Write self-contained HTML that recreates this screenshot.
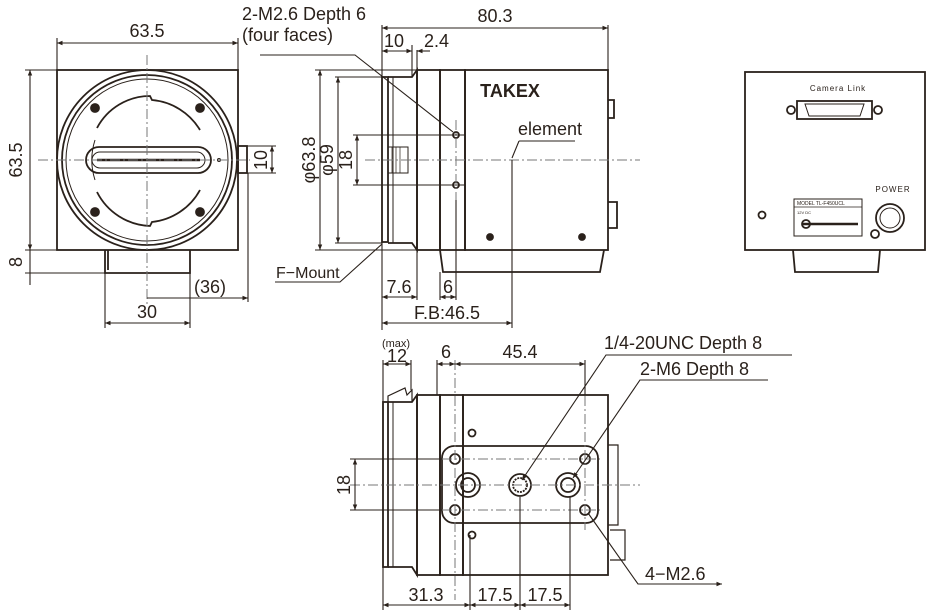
<!DOCTYPE html>
<html><head><meta charset="utf-8"><style>
html,body{margin:0;padding:0;background:#fff;width:939px;height:613px;overflow:hidden}
svg{display:block}
text{font-family:"Liberation Sans",sans-serif;fill:#2a211b}
</style></head><body>
<svg width="939" height="613" viewBox="0 0 939 613" xmlns="http://www.w3.org/2000/svg">
<defs>
<marker id="a" viewBox="0 0 10 10" refX="10" refY="5" markerWidth="7" markerHeight="5" orient="auto-start-reverse"><path d="M0,1 L10,5 L0,9z" fill="#2a211b"/></marker>
</defs>
<g stroke="#2a211b" fill="none" stroke-width="1.8">
<!-- FRONT VIEW -->
<rect x="57" y="70" width="181" height="180"/>
<circle cx="147" cy="160" r="90"/>
<circle cx="147" cy="160" r="85"/>
<circle cx="147" cy="160" r="81" stroke-width="1"/>
<path d="M97,128 A60,60 0 0 1 150,96 L152,100 A62,62 0 0 1 200,130 M200,190 A62,62 0 0 1 152,222 L150,226 A62,62 0 0 1 97,192"/>
<path d="M95,140 A65,65 0 0 0 95,180" stroke-width="1"/>
<rect x="86" y="147" width="125" height="26" rx="13"/>
<rect x="92" y="152" width="113" height="16" rx="8" stroke-width="1"/>
<line x1="97" y1="160" x2="200" y2="160" stroke-width="2.5"/>
<g fill="#2a211b"><circle cx="95" cy="108" r="4"/><circle cx="200" cy="108" r="4"/><circle cx="95" cy="212" r="4"/><circle cx="200" cy="212" r="4"/></g>
<circle cx="219" cy="160" r="1.5" stroke-width="1"/>
<rect x="238" y="146" width="9" height="27"/>
<path d="M105,250 L105,273 L190,273 L190,250 M108,250 L108,270" />
<!-- SIDE VIEW -->
<rect x="382" y="77" width="6" height="165"/>
<path d="M388,77 L412,77 L417,70 L417,250 L412,243 L388,243"/>
<line x1="393" y1="77" x2="393" y2="243" stroke-width="1"/>
<rect x="417" y="70" width="23" height="180"/>
<rect x="440" y="70" width="25" height="180"/>
<rect x="465" y="70" width="143" height="180"/>
<rect x="388" y="147" width="20" height="26" stroke-width="1"/>
<path d="M392,147 V173 M396,147 V173 M400,147 V173" stroke-width="0.7"/>
<circle cx="456" cy="135" r="3"/><circle cx="456" cy="185" r="3"/>
<g fill="#2a211b"><circle cx="490" cy="237" r="3"/><circle cx="582" cy="237" r="3"/></g>
<path d="M440,250 L443,272 L600,272 L604,250"/>
<path d="M608,100 H614 V118 H608 M608,202 H617 V228 H608"/>
<!-- BACK VIEW -->
<rect x="745" y="72" width="180" height="178"/>
<path d="M793,250 L795,272 L878,272 L880,250"/>
<rect x="797" y="101" width="75" height="18"/>
<path d="M805,104 H864 L860,116 H809z" stroke-width="1"/>
<circle cx="791" cy="110" r="4"/><circle cx="878" cy="110" r="4"/>
<rect x="794" y="199" width="68" height="37" stroke-width="1"/>
<line x1="794" y1="207" x2="862" y2="207" stroke-width="0.8"/>
<line x1="802" y1="224" x2="858" y2="224" stroke-width="2.5"/>
<circle cx="806" cy="224" r="4"/>
<circle cx="890" cy="218" r="14"/><circle cx="890" cy="218" r="10" stroke-width="1"/>
<circle cx="875" cy="234" r="4"/>
<circle cx="762" cy="215" r="3.5"/>
<!-- BOTTOM VIEW -->
<rect x="383" y="402" width="5" height="165"/>
<path d="M388,402 L412,402 L417,395 L417,575 L412,567 L388,567"/>
<line x1="393" y1="402" x2="393" y2="567" stroke-width="1"/>
<path d="M388,402 L388,396 L405,388 L407,395 L412,390 L412,402" stroke-width="1.2"/>
<rect x="417" y="395" width="23" height="180"/>
<rect x="440" y="395" width="23" height="180"/>
<rect x="463" y="395" width="145" height="180"/>
<rect x="442" y="446" width="156" height="77" rx="12"/>
<circle cx="468" cy="485" r="12"/><circle cx="468" cy="485" r="7"/>
<circle cx="520" cy="485" r="11"/><circle cx="520" cy="485" r="7" stroke-dasharray="2 1"/>
<circle cx="568" cy="485" r="12"/><circle cx="568" cy="485" r="7"/>
<circle cx="455" cy="459" r="5"/><circle cx="455" cy="510" r="5"/><circle cx="585" cy="459" r="5"/><circle cx="585" cy="510" r="5"/>
<circle cx="472" cy="433" r="3.5"/><circle cx="472" cy="535" r="3.5"/>
<path d="M608,445 H618 V525 H608 M610,530 H625 V560 H610" stroke-width="1.2"/>
</g>
<!-- center lines -->
<g stroke="#777" stroke-width="1" stroke-dasharray="10 3 2 3" fill="none">
<line x1="147" y1="55" x2="147" y2="305"/>
<line x1="38" y1="160" x2="250" y2="160"/>
<line x1="365" y1="160" x2="640" y2="160"/>
<line x1="456" y1="120" x2="456" y2="200"/>
<line x1="350" y1="485" x2="640" y2="485"/>
<line x1="442" y1="459" x2="600" y2="459"/>
<line x1="442" y1="510" x2="600" y2="510"/>
<line x1="455" y1="360" x2="455" y2="600"/>
<line x1="585" y1="360" x2="585" y2="530"/>
</g>
<!-- dimension lines -->
<g stroke="#2a211b" stroke-width="1.1" fill="none">
<line x1="57" y1="38" x2="57" y2="70"/><line x1="238" y1="38" x2="238" y2="70"/>
<line x1="57" y1="43" x2="238" y2="43" marker-start="url(#a)" marker-end="url(#a)"/>
<line x1="25" y1="70" x2="57" y2="70"/><line x1="25" y1="250" x2="57" y2="250"/><line x1="25" y1="273" x2="105" y2="273"/>
<line x1="30" y1="70" x2="30" y2="250" marker-start="url(#a)" marker-end="url(#a)"/>
<line x1="30" y1="250" x2="30" y2="273"/><line x1="30" y1="273" x2="30" y2="285"/>
<line x1="105" y1="273" x2="105" y2="328"/><line x1="190" y1="273" x2="190" y2="328"/>
<line x1="105" y1="323" x2="190" y2="323" marker-start="url(#a)" marker-end="url(#a)"/>
<line x1="248" y1="173" x2="248" y2="302"/>
<line x1="147" y1="298" x2="248" y2="298" marker-end="url(#a)"/>
<line x1="247" y1="146" x2="276" y2="146"/><line x1="247" y1="173" x2="276" y2="173"/>
<line x1="272" y1="146" x2="272" y2="173" marker-start="url(#a)" marker-end="url(#a)"/>
<line x1="382" y1="25" x2="382" y2="330"/><line x1="608" y1="25" x2="608" y2="70"/>
<line x1="382" y1="28" x2="608" y2="28" marker-start="url(#a)" marker-end="url(#a)"/>
<line x1="412" y1="45" x2="412" y2="77"/><line x1="417" y1="50" x2="417" y2="70"/>
<line x1="382" y1="51" x2="412" y2="51" marker-start="url(#a)" marker-end="url(#a)"/>
<line x1="417" y1="51" x2="430" y2="51" marker-start="url(#a)"/>
<line x1="315" y1="70" x2="417" y2="70"/><line x1="315" y1="250" x2="417" y2="250"/>
<line x1="320" y1="70" x2="320" y2="250" marker-start="url(#a)" marker-end="url(#a)"/>
<line x1="335" y1="77" x2="382" y2="77"/><line x1="335" y1="243" x2="382" y2="243"/>
<line x1="338" y1="77" x2="338" y2="243" marker-start="url(#a)" marker-end="url(#a)"/>
<line x1="353" y1="135" x2="465" y2="135"/><line x1="353" y1="185" x2="465" y2="185"/>
<line x1="357" y1="135" x2="357" y2="185" marker-start="url(#a)" marker-end="url(#a)"/>
<line x1="417" y1="250" x2="417" y2="300"/><line x1="440" y1="272" x2="440" y2="300"/><line x1="456" y1="200" x2="456" y2="300"/>
<line x1="382" y1="297" x2="417" y2="297" marker-start="url(#a)" marker-end="url(#a)"/>
<line x1="440" y1="297" x2="456" y2="297" marker-start="url(#a)" marker-end="url(#a)"/>
<line x1="512" y1="160" x2="512" y2="328"/>
<line x1="382" y1="323" x2="512" y2="323" marker-start="url(#a)" marker-end="url(#a)"/>
<path d="M260,55 H355 L453,132"/>
<path d="M519,141 H575 M519,141 L512,158"/>
<path d="M275,282 H340 L382,244"/>
<line x1="383" y1="360" x2="383" y2="610"/><line x1="411" y1="360" x2="411" y2="390"/>
<line x1="383" y1="364" x2="411" y2="364" marker-start="url(#a)" marker-end="url(#a)"/>
<line x1="437" y1="360" x2="437" y2="395"/>
<line x1="437" y1="364" x2="455" y2="364" marker-start="url(#a)" marker-end="url(#a)"/>
<line x1="455" y1="364" x2="585" y2="364" marker-start="url(#a)" marker-end="url(#a)"/>
<line x1="585" y1="360" x2="585" y2="395"/>
<line x1="350" y1="459" x2="442" y2="459"/><line x1="350" y1="510" x2="442" y2="510"/>
<line x1="355" y1="459" x2="355" y2="510" marker-start="url(#a)" marker-end="url(#a)"/>
<line x1="470" y1="535" x2="470" y2="610"/><line x1="520" y1="497" x2="520" y2="610"/><line x1="570" y1="497" x2="570" y2="610"/>
<line x1="383" y1="605" x2="470" y2="605" marker-start="url(#a)" marker-end="url(#a)"/>
<line x1="470" y1="605" x2="520" y2="605" marker-start="url(#a)" marker-end="url(#a)"/>
<line x1="520" y1="605" x2="570" y2="605" marker-start="url(#a)" marker-end="url(#a)"/>
<path d="M792,355 H606 L522,480" marker-end="url(#a)"/>
<path d="M768,380 H640 L573,478" marker-end="url(#a)"/>
<path d="M722,584 H638 L588,513" marker-start="url(#a)"/>
</g>
<g font-size="18">
<text x="147" y="37" text-anchor="middle">63.5</text>
<text transform="translate(22,160) rotate(-90)" text-anchor="middle">63.5</text>
<text transform="translate(22,262) rotate(-90)" text-anchor="middle">8</text>
<text x="147" y="318" text-anchor="middle">30</text>
<text x="210" y="293" text-anchor="middle">(36)</text>
<text transform="translate(267,160) rotate(-90)" text-anchor="middle">10</text>
<text x="242" y="20">2-M2.6 Depth 6</text>
<text x="242" y="41">(four faces)</text>
<text x="495" y="22" text-anchor="middle">80.3</text>
<text x="384" y="47">10</text>
<text x="424" y="47">2.4</text>
<text transform="translate(315,160) rotate(-90)" text-anchor="middle">φ63.8</text>
<text transform="translate(333,160) rotate(-90)" text-anchor="middle">φ59</text>
<text transform="translate(352,160) rotate(-90)" text-anchor="middle">18</text>
<text x="518" y="135">element</text>
<text x="276" y="278" font-size="16">F−Mount</text>
<text x="399" y="293" text-anchor="middle">7.6</text>
<text x="448" y="293" text-anchor="middle">6</text>
<text x="447" y="319" text-anchor="middle">F.B:46.5</text>
<text x="397" y="362" text-anchor="middle">12</text>
<text x="446" y="358" text-anchor="middle">6</text>
<text x="520" y="358" text-anchor="middle">45.4</text>
<text transform="translate(350,485) rotate(-90)" text-anchor="middle">18</text>
<text x="426" y="601" text-anchor="middle">31.3</text>
<text x="495" y="601" text-anchor="middle">17.5</text>
<text x="545" y="601" text-anchor="middle">17.5</text>
<text x="604" y="349">1/4-20UNC Depth 8</text>
<text x="640" y="375">2-M6 Depth 8</text>
<text x="645" y="580">4−M2.6</text>
</g>
<text x="396" y="347" font-size="11" text-anchor="middle">(max)</text>
<text x="510" y="97" font-size="18" font-weight="bold" text-anchor="middle">TAKEX</text>
<text x="838" y="91" font-size="8" text-anchor="middle" letter-spacing="1">Camera Link</text>
<text x="893" y="192" font-size="8" text-anchor="middle" letter-spacing="1">POWER</text>
<text x="797" y="205" font-size="5">MODEL TL-F450UCL</text>
<text x="797" y="214" font-size="4">12V DC</text>
</svg>
</body></html>
